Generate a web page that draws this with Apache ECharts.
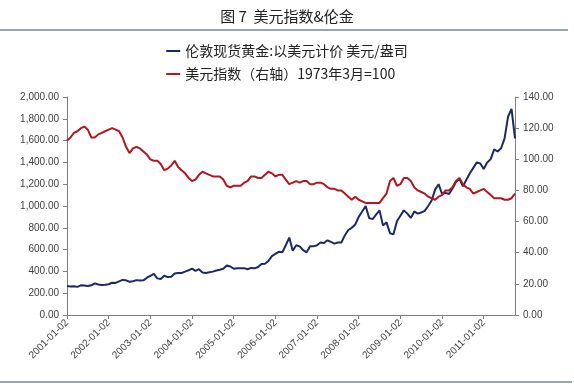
<!DOCTYPE html>
<html><head><meta charset="utf-8">
<script src="https://cdn.jsdelivr.net/npm/echarts@6/dist/echarts.min.js"></script>
<style>html,body{margin:0;padding:0;background:#fff}#c{width:574px;height:388px}</style>
</head><body><div id="c"></div>
<script>
const years = [2001,2002,2003,2004,2005,2006,2007,2008,2009,2010,2011];
const lastMonth2011 = 10;
const goldName = '伦敦现货黄金:以美元计价 美元/盎司';
const usdName = '美元指数（右轴）1973年3月=100';
const gold = [
 265,262,264,258,272,270,266,272,290,280,276,277,
 282,296,294,308,322,318,305,310,320,316,318,342,
 360,378,336,330,360,348,350,380,385,385,398,410,
 425,405,420,390,385,392,398,408,415,425,455,445,
 425,428,430,430,420,432,428,440,468,470,495,540,
 560,580,575,640,710,590,640,630,595,575,630,630,
 640,665,660,685,670,655,665,665,730,780,800,830,
 900,950,1000,890,880,920,960,820,850,750,740,860,
 910,960,930,890,950,930,940,955,1000,1050,1150,1200,
 1110,1120,1110,1160,1220,1250,1180,1240,1300,1350,1400,1390,
 1340,1400,1430,1520,1500,1530,1620,1820,1890,1620
];
const usd = [
 112,114,117,118,120,121,119,114,114,116,117,118,
 119,120,119,118,114,108,104,107,108,107,105,103,
 100,99,99,97,93,94,96,99,95,93,91,88,
 86,87,90,92,91,90,89,89,89,87,83,82,
 83,83,83,85,86,89,89,88,88,90,92,91,
 89,90,90,87,84,85,86,85,86,86,84,84,
 85,85,84,82,81,81,80,80,78,76,74,76,
 74,73,72,72,72,72,72,75,78,86,88,83,
 84,88,88,86,82,80,79,78,76,75,74,76,
 77,80,80,82,86,88,84,82,81,78,79,80,
 81,79,77,75,75,75,74,74,75,78
];
const categories = [];
years.forEach(y => {
  const n = y === 2011 ? lastMonth2011 : 12;
  for (let m = 1; m <= n; m++) categories.push(y + '-' + String(m).padStart(2,'0') + '-02');
});
const yearStart = (i, v) => String(v).endsWith('-01-02');
const fmt2 = v => Number(v).toLocaleString('en-US',{minimumFractionDigits:2,maximumFractionDigits:2});
const lblStyle = {color:'#404040', fontSize:10, fontFamily:'Liberation Sans'};
const axLine = {show:true, lineStyle:{color:'#7f7f7f', width:1}};

const chart = echarts.init(document.getElementById('c'));
chart.setOption({
  animation:false,
  backgroundColor:'#fff',
  title:{text:'图 7  美元指数&伦金', left:'center', top:4,
    textStyle:{fontSize:15, fontWeight:'normal', color:'#222', fontFamily:'Noto Sans CJK SC'}},
  legend:{orient:'vertical', left:'center', top:39, itemGap:9, itemWidth:14, itemHeight:2,
    icon:'rect', textStyle:{fontSize:14, color:'#222', fontFamily:'Noto Sans CJK SC'},
    data:[goldName, usdName]},
  graphic:[
    {type:'line', shape:{x1:0,y1:30,x2:568,y2:30}, style:{stroke:'#2f4f5f', lineWidth:1}},
    {type:'line', shape:{x1:0,y1:382,x2:572,y2:382}, style:{stroke:'#2f4f5f', lineWidth:1}}
  ],
  grid:{left:67, right:59, top:97, bottom:73},
  xAxis:{type:'category', data:categories, boundaryGap:false,
    axisLine:axLine,
    axisTick:{show:true, interval:yearStart, length:4, lineStyle:{color:'#7f7f7f'}},
    axisLabel:Object.assign({interval:yearStart, rotate:45, margin:6}, lblStyle),
    splitLine:{show:false}},
  yAxis:[
    {type:'value', min:0, max:2000, interval:200, axisLine:axLine,
     axisTick:{show:true, length:4, lineStyle:{color:'#7f7f7f'}},
     axisLabel:Object.assign({formatter:fmt2, margin:8}, lblStyle), splitLine:{show:false}},
    {type:'value', min:0, max:140, interval:20, position:'right', axisLine:axLine,
     axisTick:{show:true, length:4, lineStyle:{color:'#7f7f7f'}},
     axisLabel:Object.assign({formatter:v=>v.toFixed(2), margin:8}, lblStyle), splitLine:{show:false}}
  ],
  series:[
    {name:goldName, type:'line', data:gold, yAxisIndex:0, showSymbol:false,
     lineStyle:{color:'#1b2a64', width:2}, itemStyle:{color:'#1b2a64'}},
    {name:usdName, type:'line', data:usd, yAxisIndex:1, showSymbol:false,
     lineStyle:{color:'#b3161c', width:2}, itemStyle:{color:'#b3161c'}}
  ]
});
</script></body></html>
